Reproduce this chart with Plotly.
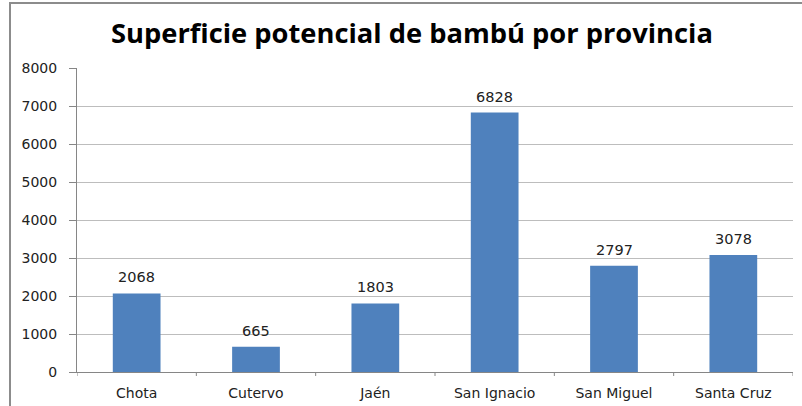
import plotly.graph_objects as go

provincias = ["Chota", "Cutervo", "Jaén", "San Ignacio", "San Miguel", "Santa Cruz"]
superficie = [2068, 665, 1803, 6828, 2797, 3078]
y_ticks = [0, 1000, 2000, 3000, 4000, 5000, 6000, 7000, 8000]
titulo = "Superficie potencial de bambú por provincia"

W, H = 802, 406
ml, mr, mt, mb = 77, 9, 68, 34
pw, ph = W - ml - mr, H - mt - mb

fig = go.Figure(go.Bar(
    x=provincias, y=superficie,
    marker=dict(color="#4F81BD", line=dict(width=0)),
    width=0.4, hoverinfo="x+y",
))

for p, v in zip(provincias, superficie):
    fig.add_annotation(x=p, y=v, text=str(v), showarrow=False, yanchor="bottom",
                       yshift=6, font=dict(family="DejaVu Sans", size=14.5, color="#222"))

fig.update_layout(
    width=W, height=H,
    margin=dict(l=ml, r=mr, t=mt, b=mb),
    paper_bgcolor="white", plot_bgcolor="white",
    showlegend=False,
    title=dict(text="<b>" + titulo + "</b>", x=412 / W, xanchor="center",
               y=1 - 33 / H, yanchor="middle",
               font=dict(family="Open Sans", size=27.3, color="#000")),
    xaxis=dict(showgrid=False, showline=True, linecolor="#868686", linewidth=1,
               ticks="", tickfont=dict(family="DejaVu Sans", size=14, color="#222"),
               range=[-0.5, 5.5], ticklabelstandoff=8, automargin=False),
    yaxis=dict(range=[0, 8000], tickvals=y_ticks, showgrid=True, gridcolor="#BDBDBD",
               gridwidth=1, showline=True, linecolor="#868686", linewidth=1,
               ticks="outside", ticklen=7, tickcolor="#868686", zeroline=False,
               tickfont=dict(family="DejaVu Sans", size=14, color="#222"),
               ticklabelstandoff=9, automargin=False),
)

shapes = []
for i in range(len(provincias) + 1):
    xb = i - 0.5
    shapes.append(dict(type="line", xref="x", yref="paper", x0=xb, x1=xb,
                       y0=0, y1=-4 / ph, line=dict(color="#868686", width=1)))
shapes.append(dict(type="rect", xref="paper", yref="paper",
                   x0=(10 - ml) / pw, x1=(W + 20 - ml) / pw,
                   y0=-(mb + 20) / ph, y1=1 + (mt - 3) / ph,
                   line=dict(color="#8C8C8C", width=2), fillcolor="rgba(0,0,0,0)",
                   layer="below"))
fig.update_layout(shapes=shapes)

fig.write_html("out.html", config={"displayModeBar": False},
               post_script="document.body.style.margin='0';document.body.style.overflow='hidden';")
